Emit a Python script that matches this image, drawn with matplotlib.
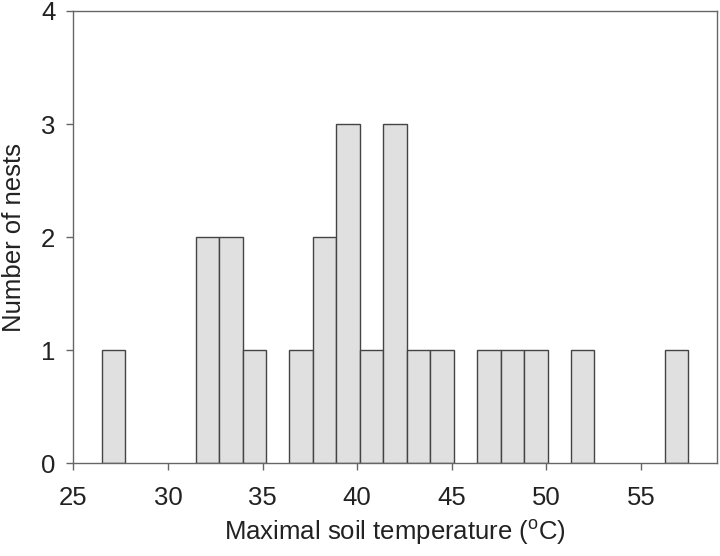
import matplotlib
matplotlib.use("Agg")
import matplotlib.pyplot as plt

plt.rcParams['font.family'] = ['Liberation Sans', 'DejaVu Sans']

# Histogram data (bin width ~1.24 °C)
bin_width = 1.24
bin_lefts = [26.50, 31.46, 32.70, 33.94, 36.42, 37.66, 38.90, 40.14, 41.38,
             42.62, 43.86, 46.34, 47.58, 48.82, 51.30, 56.26]
counts = [1, 2, 2, 1, 1, 2, 3, 1, 3, 1, 1, 1, 1, 1, 1, 1]

x_ticks = [25, 30, 35, 40, 45, 50, 55]
y_ticks = [0, 1, 2, 3, 4]

fig = plt.figure(figsize=(7.2, 5.56), dpi=100)
ax = fig.add_axes([0.102, 0.1667, 0.8934, 0.8136])

ax.bar(bin_lefts, counts, width=bin_width, align='edge',
       color='#e0e0e0', edgecolor='#444444', linewidth=1.0)

ax.set_xlim(25, 59)
ax.set_ylim(0, 4)
ax.set_xticks(x_ticks)
ax.set_yticks(y_ticks)

for s in ax.spines.values():
    s.set_color('#666666')
    s.set_linewidth(1.0)

fs = 18.5
ax.tick_params(axis='both', direction='out', length=5, width=1.0,
               color='#666666', labelsize=fs, labelcolor='#222222')
ax.tick_params(axis='x', pad=11)
ax.tick_params(axis='y', pad=8)

ax.set_xlabel('Maximal soil temperature ($\\mathregular{^{o}}$C)',
              fontsize=fs, color='#222222', labelpad=6)
ax.set_ylabel('Number of nests', fontsize=fs, color='#222222', labelpad=11)

fig.savefig('out.png', dpi=100)
